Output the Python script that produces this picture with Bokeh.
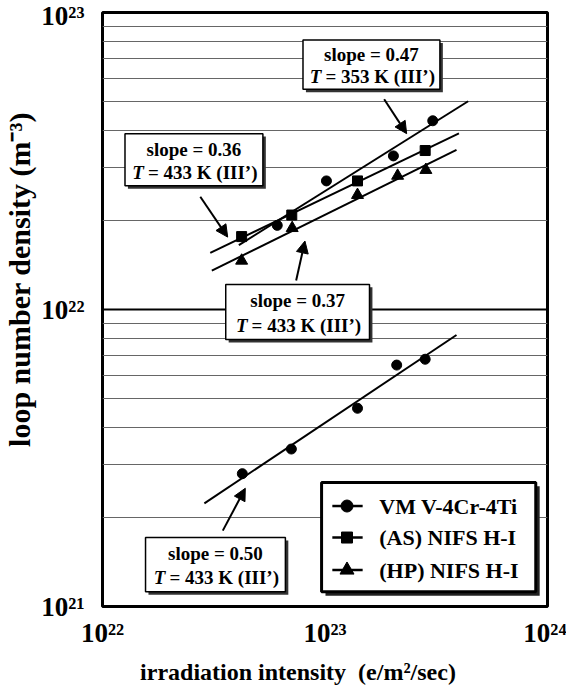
import numpy as np
from bokeh.plotting import figure
from bokeh.models import (Label, Arrow, NormalHead, FixedTicker,
                          CustomJSTickFormatter, Range1d)
from bokeh.embed import file_html
from bokeh.resources import INLINE

# ---------------- data ----------------
vm353_x = [6.1e22, 1.015e23, 2.03e23, 3.05e23]
vm353_y = [1.92e22, 2.71e22, 3.29e22, 4.32e22]

as433_x = [4.22e22, 7.09e22, 1.40e23, 2.82e23]
as433_y = [1.76e22, 2.08e22, 2.71e22, 3.43e22]

hp433_x = [4.22e22, 7.12e22, 1.40e23, 2.12e23, 2.84e23]
hp433_y = [1.46e22, 1.88e22, 2.43e22, 2.82e22, 2.95e22]

vm433_x = [4.25e22, 7.06e22, 1.40e23, 2.10e23, 2.82e23]
vm433_y = [2.80e21, 3.39e21, 4.65e21, 6.50e21, 6.80e21]

# fitted power-law slopes (from the annotations) and x extent of each fit line
slopes = {"vm353": 0.47, "as433": 0.36, "hp433": 0.37, "vm433": 0.50}
fit_x_start = {"vm353": 4.1e22, "as433": 3.05e22, "hp433": 3.1e22, "vm433": 2.87e22}
fit_x_end = {"vm353": 4.4e23, "as433": 4.0e23, "hp433": 3.9e23, "vm433": 3.9e23}

x_major = [1e22, 1e23, 1e24]
y_major = [1e21, 1e22, 1e23]
y_minor = [m * 10.0 ** d for d in (21, 22) for m in range(2, 10)]

legend_labels = ["VM V-4Cr-4Ti", "(AS) NIFS H-I", "(HP) NIFS H-I"]
annot_slope = ["slope = 0.47", "slope = 0.36", "slope = 0.37", "slope = 0.50"]
annot_temp = ["= 353 K (III\u2019)", "= 433 K (III\u2019)", "= 433 K (III\u2019)", "= 433 K (III\u2019)"]

x_title = "irradiation intensity\u00a0 (e/m\u00b2/sec)"
y_title = "loop number density (m\u207b\u00b3)"

# ---------------- layout ----------------
FONT = "Liberation Serif"
W, H = 566, 687
ML, MR, MT, MB = 92, 19, 12, 72
FW, FH = W - ML - MR, H - MT - MB
PAGE = 8
NB = "\u00a0"


def fx(px):  # page pixel -> data x (annotation placement only)
    return 10 ** (22 + 2 * (px - PAGE - ML) / FW)


def fy(py):  # page pixel -> data y (annotation placement only)
    return 10 ** (23 - 2 * (py - PAGE - MT) / FH)


p = figure(width=W, height=H, x_axis_type="log", y_axis_type="log",
           x_range=Range1d(1e22, 1e24), y_range=Range1d(1e21, 1e23),
           output_backend="svg", toolbar_location=None,
           min_border_left=ML, min_border_right=MR,
           min_border_top=MT, min_border_bottom=MB)
p.background_fill_color = "white"
p.border_fill_color = "white"
p.outline_line_color = "black"
p.outline_line_width = 3

fmt = CustomJSTickFormatter(code="""
const sup = {"0":"\u2070","1":"\u00b9","2":"\u00b2","3":"\u00b3","4":"\u2074",
             "5":"\u2075","6":"\u2076","7":"\u2077","8":"\u2078","9":"\u2079","-":"\u207b"};
const e = Math.round(Math.log10(tick));
return "10" + String(e).split("").map(c => sup[c]).join("");
""")

xt = FixedTicker(ticks=x_major)
yt = FixedTicker(ticks=y_major, minor_ticks=y_minor)
p.xaxis.ticker = xt
p.yaxis.ticker = yt
p.xgrid.ticker = xt
p.ygrid.ticker = yt
p.xaxis.formatter = fmt
p.yaxis.formatter = fmt

for ax in (p.xaxis, p.yaxis):
    ax.axis_line_color = None
    ax.major_tick_line_color = None
    ax.minor_tick_line_color = None
    ax.major_label_text_font = FONT
    ax.major_label_text_font_style = "bold"
    ax.major_label_text_font_size = "27px"
    ax.major_label_text_color = "black"
    ax.axis_label_text_font = FONT
    ax.axis_label_text_font_style = "bold"
    ax.axis_label_text_color = "black"

# titles sit a little off-centre in the original; padding shifts them
p.xaxis.axis_label = x_title + NB * 9
p.yaxis.axis_label = NB * 8 + y_title
p.xaxis.axis_label_text_font_size = "24px"
p.yaxis.axis_label_text_font_size = "30px"
p.xaxis.major_label_standoff = 5
p.yaxis.major_label_standoff = 12
p.xaxis.axis_label_standoff = 8
p.yaxis.axis_label_standoff = 2

p.xgrid.grid_line_color = None
p.ygrid.grid_line_color = "black"
p.ygrid.grid_line_width = 2
p.ygrid.minor_grid_line_color = "#666666"
p.ygrid.minor_grid_line_width = 1

# ---------------- fit lines ----------------
series = {
    "vm353": (vm353_x, vm353_y),
    "as433": (as433_x, as433_y),
    "hp433": (hp433_x, hp433_y),
    "vm433": (vm433_x, vm433_y),
}
for key, (xs, ys) in series.items():
    lx = np.log10(xs)
    ly = np.log10(ys)
    b = slopes[key]
    a = ly.mean() - b * lx.mean()
    xe = np.array([fit_x_start[key], fit_x_end[key]])
    ye = 10 ** (a + b * np.log10(xe))
    p.line(xe, ye, line_color="black", line_width=2)

# ---------------- points ----------------
p.scatter(vm353_x, vm353_y, marker="circle", size=10, color="black")
p.scatter(vm433_x, vm433_y, marker="circle", size=10, color="black")
p.scatter(as433_x, as433_y, marker="square", size=10, color="black")
p.scatter(hp433_x, hp433_y, marker="triangle", size=12, color="black")

# ---------------- annotation boxes ----------------
boxes = [  # (left, top, right, bottom) in page px
    (305, 48, 445, 98),
    (123, 143, 264, 196),
    (226, 296, 373, 352),
    (144, 553, 287, 608),
]
SH = 3
for (l, t, r, b) in boxes:
    p.quad(left=[fx(l + SH)], right=[fx(r + SH)], top=[fy(t + SH)], bottom=[fy(b + SH)],
           fill_color="#333333", line_color=None)
    p.quad(left=[fx(l)], right=[fx(r)], top=[fy(t)], bottom=[fy(b)],
           fill_color="white", line_color="black", line_width=1.5)

for i, (l, t, r, b) in enumerate(boxes):
    cx = (l + r) / 2
    y1 = t + (b - t) * 0.30
    y2 = t + (b - t) * 0.74
    p.add_layout(Label(x=fx(cx), y=fy(y1), text=annot_slope[i], text_font=FONT,
                       text_font_style="bold", text_font_size="19px",
                       text_align="center", text_baseline="middle", text_color="black"))
    p.add_layout(Label(x=fx(cx), y=fy(y2), x_offset=-50, text="T", text_font=FONT,
                       text_font_style="bold italic", text_font_size="19px",
                       text_align="right", text_baseline="middle", text_color="black"))
    p.add_layout(Label(x=fx(cx), y=fy(y2), x_offset=-46, text=annot_temp[i], text_font=FONT,
                       text_font_style="bold", text_font_size="19px",
                       text_align="left", text_baseline="middle", text_color="black"))

# ---------------- arrows ----------------
arrows = [
    ((388, 108), (411, 143)),
    ((200, 207), (228, 248)),
    ((298, 292), (307, 252)),
    ((223, 546), (246, 503)),
]
for (x0, y0), (x1, y1) in arrows:
    p.add_layout(Arrow(x_start=fx(x0), y_start=fy(y0), x_end=fx(x1), y_end=fy(y1),
                       line_color="black", line_width=2,
                       end=NormalHead(size=12, fill_color="black", line_color="black")))

# ---------------- legend (hand built) ----------------
LL, LT, LR, LB = 324, 497, 543, 608
p.quad(left=[fx(LL + 4)], right=[fx(LR + 4)], top=[fy(LT + 4)], bottom=[fy(LB + 4)],
       fill_color="#222222", line_color=None)
p.quad(left=[fx(LL)], right=[fx(LR)], top=[fy(LT)], bottom=[fy(LB)],
       fill_color="white", line_color="black", line_width=3)
rows = [521, 553, 586]
markers = ["circle", "square", "triangle"]
msize = [12, 11, 14]
for ry, mk, ms, lab in zip(rows, markers, msize, legend_labels):
    p.line([fx(335), fx(366)], [fy(ry), fy(ry)], line_color="black", line_width=2.5)
    p.scatter([fx(350)], [fy(ry)], marker=mk, size=ms, color="black")
    p.add_layout(Label(x=fx(383), y=fy(ry), text=lab, text_font=FONT,
                       text_font_style="bold", text_font_size="22px",
                       text_align="left", text_baseline="middle", text_color="black"))

open("out.html", "w").write(file_html(p, INLINE))
